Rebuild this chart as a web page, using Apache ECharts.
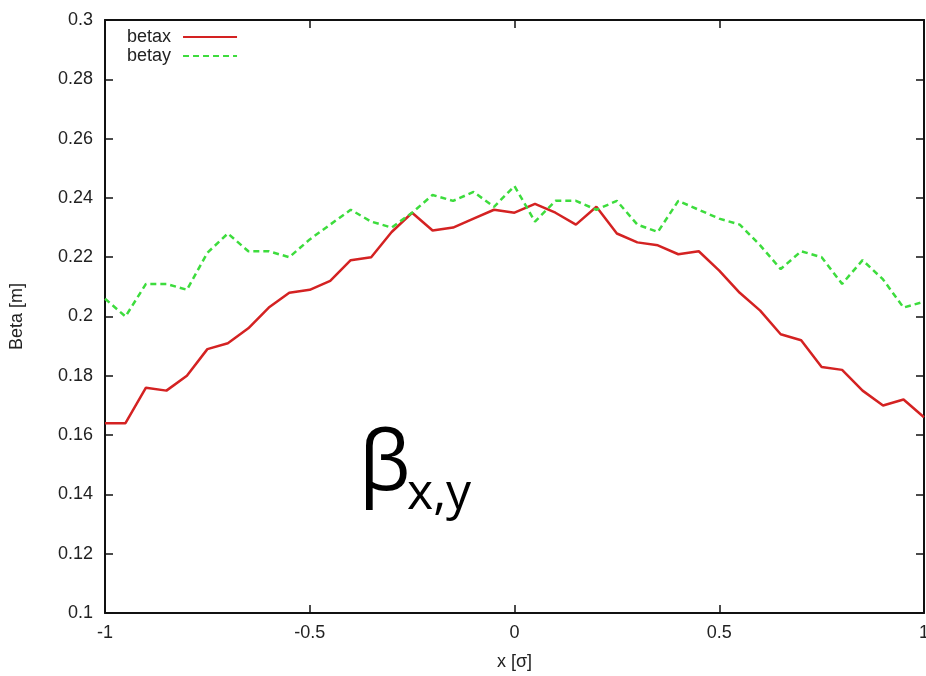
<!DOCTYPE html>
<html><head><meta charset="utf-8">
<script src="https://cdn.jsdelivr.net/npm/echarts@6/dist/echarts.min.js"></script>
<style>html,body{margin:0;padding:0;background:#fff}#c{width:926px;height:676px}</style>
</head><body><div id="c"></div>
<script>
const xValues = [-1,-0.95,-0.9,-0.85,-0.8,-0.75,-0.7,-0.65,-0.6,-0.55,-0.5,-0.45,-0.4,-0.35,-0.3,-0.25,-0.2,-0.15,-0.1,-0.05,0,0.05,0.1,0.15,0.2,0.25,0.3,0.35,0.4,0.45,0.5,0.55,0.6,0.65,0.7,0.75,0.8,0.85,0.9,0.95,1];
const betax = [0.164,0.164,0.176,0.175,0.180,0.189,0.191,0.196,0.203,0.208,0.209,0.212,0.219,0.220,0.2285,0.235,0.229,0.230,0.233,0.236,0.235,0.238,0.235,0.231,0.237,0.228,0.225,0.224,0.221,0.222,0.2155,0.208,0.202,0.194,0.192,0.183,0.182,0.175,0.170,0.172,0.166];
const betay = [0.206,0.200,0.211,0.211,0.209,0.2215,0.228,0.222,0.222,0.220,0.226,0.231,0.236,0.232,0.230,0.235,0.241,0.239,0.242,0.237,0.244,0.232,0.239,0.239,0.236,0.239,0.231,0.2285,0.239,0.236,0.233,0.231,0.224,0.216,0.222,0.220,0.211,0.219,0.2125,0.203,0.205];
const seriesNames = ['betax','betay'];

const chart = echarts.init(document.getElementById('c'));
const font = 'Liberation Sans';
const pair = ys => xValues.map((x,i)=>[x, ys[i]]);
const tick = {show:true, inside:true, length:8, lineStyle:{color:'#111', width:1.5}};
chart.setOption({
  animation:false,
  grid:{left:105, right:2, top:20, bottom:63, show:false, outerBoundsMode:'none', containLabel:false},
  legend:{
    orient:'vertical', left:122, top:23, align:'right', itemWidth:54, itemHeight:14, itemGap:1,
    textStyle:{fontFamily:font, fontSize:18, color:'#222', padding:[0,7,0,0]},
    itemStyle:{opacity:0},
    data:seriesNames
  },
  xAxis:[{
    type:'value', min:-1, max:1, interval:0.5,
    name:'x [σ]', nameLocation:'middle', nameGap:40,
    nameTextStyle:{fontFamily:font, fontSize:18, color:'#222'},
    axisLine:{show:true, onZero:false, lineStyle:{color:'#111', width:2}},
    axisTick:tick, splitLine:{show:false},
    axisLabel:{fontFamily:font, fontSize:18, color:'#222', margin:11, formatter:v=>String(v)}
  },{
    type:'value', min:-1, max:1, interval:0.5, position:'top',
    axisLine:{show:true, onZero:false, lineStyle:{color:'#111', width:2}},
    axisTick:tick, axisLabel:{show:false}, splitLine:{show:false}
  }],
  yAxis:[{
    type:'value', min:0.1, max:0.3, interval:0.02,
    name:'Beta [m]', nameLocation:'middle', nameGap:79, nameRotate:90,
    nameTextStyle:{fontFamily:font, fontSize:18, color:'#222'},
    axisLine:{show:true, onZero:false, lineStyle:{color:'#111', width:2}},
    axisTick:tick, splitLine:{show:false},
    axisLabel:{fontFamily:font, fontSize:18, color:'#222', margin:12, formatter:v=>String(+v.toFixed(2))}
  },{
    type:'value', min:0.1, max:0.3, interval:0.02, position:'right',
    axisLine:{show:true, onZero:false, lineStyle:{color:'#111', width:2}},
    axisTick:tick, axisLabel:{show:false}, splitLine:{show:false}
  }],
  series:[
    {name:seriesNames[0], type:'line', symbol:'none', data:pair(betax),
     lineStyle:{color:'#d42222', width:2.5}, itemStyle:{color:'#d42222'}},
    {name:seriesNames[1], type:'line', symbol:'none', data:pair(betay),
     lineStyle:{color:'#3ddc3d', width:2.5, type:[6,4]}, itemStyle:{color:'#3ddc3d'}}
  ],
  graphic:[
    {type:'text', left:359, top:426, style:{text:'β', font:'82px "Open Sans"', fill:'#000'}},
    {type:'text', left:407, top:470, style:{text:'x,y', font:'50px "Open Sans"', fill:'#000'}}
  ]
});
</script></body></html>
